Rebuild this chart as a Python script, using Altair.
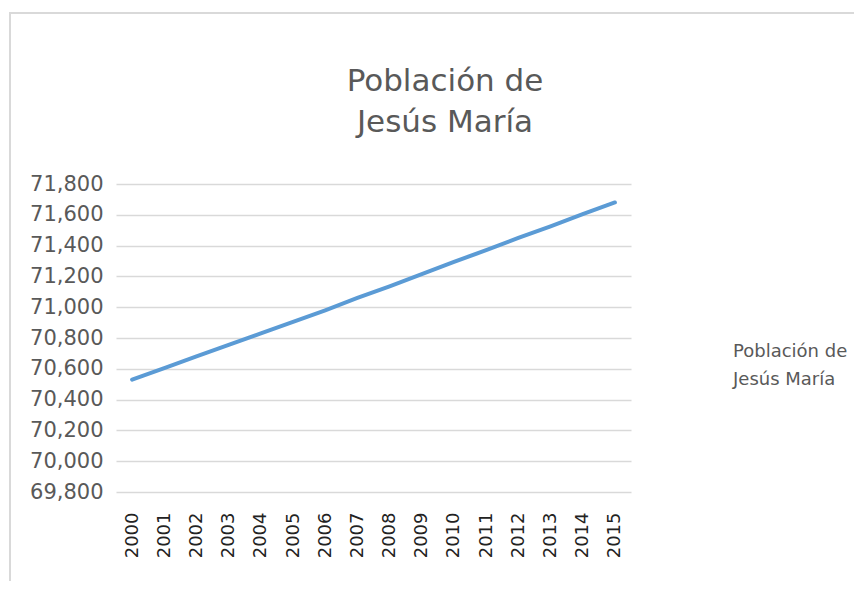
import altair as alt
import pandas as pd

years = [str(y) for y in range(2000, 2016)]
population = [70530, 70605, 70680, 70755, 70830, 70905, 70980, 71060,
              71135, 71215, 71295, 71370, 71450, 71525, 71605, 71680]
y_ticks = [69800, 70000, 70200, 70400, 70600, 70800, 71000, 71200, 71400, 71600, 71800]
title_lines = ["Población de", "Jesús María"]
legend_lines = ["Población de", "Jesús María"]

df = pd.DataFrame({"year": years, "pop": population})

W, H = 515, 308
GRID = "#d9d9d9"
TXT = "#595959"
FONT = "DejaVu Sans"

base = alt.Chart(df)

line = base.mark_line(color="#5b9bd5", strokeWidth=4, strokeCap="round").encode(
    x=alt.X("year:N", sort=years,
            scale=alt.Scale(paddingInner=0, paddingOuter=0),
            axis=alt.Axis(title=None, labelAngle=-90, labelFontSize=18, labelColor="#222222",
                          labelFont=FONT, ticks=False, domain=False, grid=False,
                          labelPadding=20)),
    y=alt.Y("pop:Q", scale=alt.Scale(domain=[69800, 71800], nice=False, zero=False),
            axis=alt.Axis(title=None, values=y_ticks, format=",d", labelFontSize=21,
                          labelColor=TXT, labelFont=FONT, ticks=False, domain=False,
                          grid=True, gridColor=GRID, gridWidth=1.5, labelPadding=13)),
)

title_df = pd.DataFrame({"t": title_lines, "i": [0, 1]})
title = alt.Chart(title_df).mark_text(fontSize=31, font=FONT, color=TXT,
                                     align="center", baseline="alphabetic").encode(
    text="t:N",
    x=alt.value(329),
    y=alt.Y("i:Q", scale=alt.Scale(domain=[0, 1], range=[-93, -52]), axis=None),
)

leg_df = pd.DataFrame({"t": legend_lines, "i": [0, 1]})
legend = alt.Chart(leg_df).mark_text(fontSize=18, font=FONT, color=TXT,
                                    align="left", baseline="middle").encode(
    text="t:N",
    x=alt.value(617),
    y=alt.Y("i:Q", scale=alt.Scale(domain=[0, 1], range=[168, 196]), axis=None),
)

border_left = alt.Chart(df.head(1)).mark_rule(color=GRID, strokeWidth=2).encode(
    x=alt.value(-106), y=alt.value(-171), y2=alt.value(420))
border_top = alt.Chart(df.head(1)).mark_rule(color=GRID, strokeWidth=2).encode(
    x=alt.value(-107), x2=alt.value(760), y=alt.value(-171))

chart = alt.layer(border_left, border_top, line, title, legend).resolve_scale(
    y="independent"
).properties(
    width=W, height=H,
    autosize=alt.AutoSizeParams(type="none"),
    padding={"left": 108, "top": 176, "right": 223, "bottom": 89},
).configure_view(stroke=None)

chart.save("out.html", embed_options={"renderer": "svg", "actions": False})
